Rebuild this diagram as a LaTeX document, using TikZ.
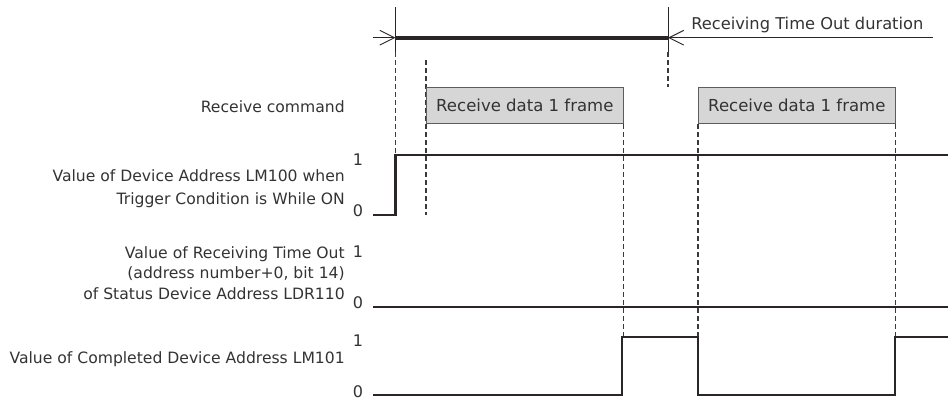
\documentclass[tikz,border=0pt]{standalone}
\usepackage{fontspec}
\setmainfont{DejaVu Sans}
\usetikzlibrary{arrows.meta,positioning,calc}
\definecolor{TCCanvas}{HTML}{FFFFFF}
\definecolor{TCInk}{HTML}{2A2627}
\definecolor{TCText}{HTML}{333333}
\definecolor{TCBox}{HTML}{D6D6D6}
\definecolor{TCEdge}{HTML}{5C5C5C}
\definecolor{TCDash}{HTML}{3A3A3A}
\tikzset{
  wave/.style={TCInk,line width=1.6pt},
  bar/.style={TCInk,line width=3pt},
  tick/.style={TCInk,line width=0.7pt},
  barb/.style={-{Straight Barb[length=11pt,width=11pt,line width=0.7pt]},TCInk,line width=0.7pt},
  guide/.style={TCDash,line width=0.8pt,dash pattern=on 3.8pt off 2.2pt},
  frame/.style={draw=TCEdge,line width=0.8pt,fill=TCBox,text=TCText,
                minimum width=147.5pt,minimum height=27pt,inner sep=0pt,
                anchor=north west,font=\fontsize{12.4}{14}\selectfont},
  sig/.style={text=TCText,inner sep=0pt,anchor=east,align=right},
  lvl/.style={text=TCText,inner sep=0pt,font=\fontsize{12}{14}\selectfont},
}

\begin{document}
\begin{tikzpicture}[x=0.75pt,y=-0.75pt]
  \useasboundingbox[fill=TCCanvas] (0,0) rectangle (948,401);

  % time points of the timeout window
  \coordinate (ts) at (395.5,37.7);
  \coordinate (te) at (668,37.7);
  \coordinate (tsin) at (373,37.7);
  \coordinate (tein) at (933,37.7);

  % dashed guides (under the frames)
  \draw[guide] (395.5,52) -- (395.5,155);
  \draw[guide] (426,60) -- (426,215);
  \draw[guide] (668,52) -- (668,87);

  % receive frames
  \node[frame] (rx1) at (426,87) {Receive data 1 frame};
  \node[frame] (rx2) at (698,87) {Receive data 1 frame};
  \draw[guide] (rx1.south east) -- ++(0,214);
  \draw[guide] (rx2.south west) -- ++(0,214);
  \draw[guide] (rx2.south east) -- ++(0,214);

  % timeout window
  \draw[tick] (395.5,7) -- (395.5,52);
  \draw[tick] (668,7) -- (668,52);
  \draw[bar] (ts) -- (te);
  \draw[barb] (tsin) -- (ts);
  \draw[tick] (te) -- (tein);
  \draw[barb] (tein) -- (te);
  \node[text=TCText,inner sep=0pt,anchor=west,font=\fontsize{12.2}{14}\selectfont]
    (tolbl) at (691,25) {Receiving Time Out duration};

  % signal names
  \node[sig,font=\fontsize{11.7}{14}\selectfont] (cmd) at (345,107) {Receive command};
  \node[sig,font=\fontsize{11.7}{17.2}\selectfont] (lm100) at (345,189)
    {Value of Device Address LM100 when\\Trigger Condition is While ON};
  \node[sig,font=\fontsize{11.7}{15.4}\selectfont] (ldr110) at (345,273)
    {Value of Receiving Time Out\\(address number+0, bit 14)\\of Status Device Address LDR110};
  \node[sig,font=\fontsize{11.7}{14}\selectfont] (lm101) at (345,359)
    {Value of Completed Device Address LM101};

  % levels
  \node[lvl] (lm100hi) at (358,160) {1};
  \node[lvl] (lm100lo) at (358,211) {0};
  \node[lvl] (ldrhi) at (358,252) {1};
  \node[lvl] (ldrlo) at (358,303) {0};
  \node[lvl] (lm101hi) at (358,341) {1};
  \node[lvl] (lm101lo) at (358,392) {0};

  % waveforms
  \draw[wave] (373,215) -- (395.5,215) -- (395.5,155) -- (948,155);
  \draw[wave] (373,307) -- (948,307);
  \draw[wave] (373,395) -- (622,395) -- (622,337) -- (698,337) -- (698,395)
    -- (895,395) -- (895,337) -- (948,337);
\end{tikzpicture}
\end{document}
